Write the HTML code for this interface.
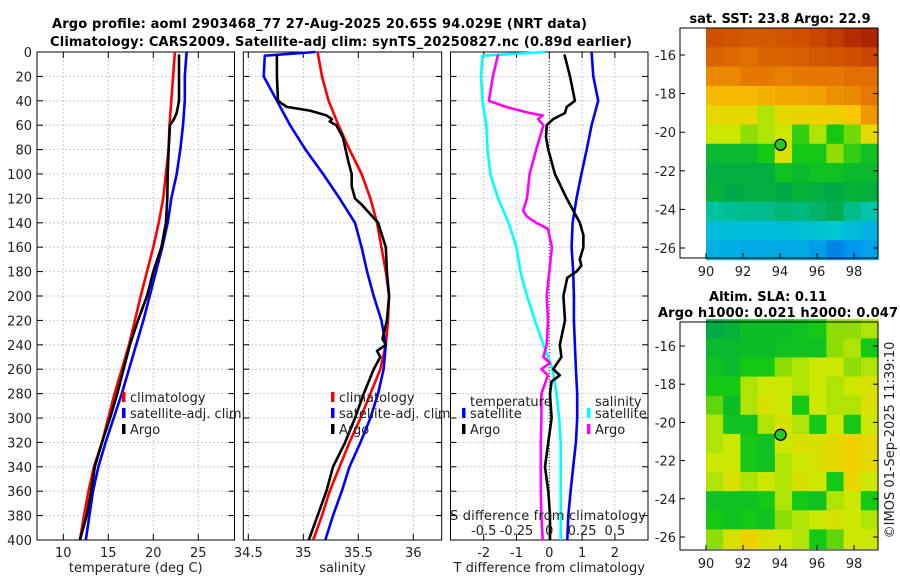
<!DOCTYPE html>
<html><head><meta charset="utf-8"><style>
html,body{margin:0;padding:0;background:#fff;width:900px;height:580px;overflow:hidden}
svg{display:block;font-family:"DejaVu Sans","Liberation Sans",sans-serif}
</style></head><body>
<svg id="s" width="900" height="580" viewBox="0 0 900 580" xmlns="http://www.w3.org/2000/svg">
<text x="52" y="28" font-size="13" font-weight="bold" textLength="535">Argo profile: aoml 2903468_77 27-Aug-2025 20.65S 94.029E (NRT data)</text>
<text x="50" y="46" font-size="13" font-weight="bold" textLength="582">Climatology: CARS2009. Satellite-adj clim: synTS_20250827.nc (0.89d earlier)</text>
<g id="g"></g>
</svg>
<script>
// ---- data ----
const depths = [0,20,40,60,80,100,120,140,160,180,200,220,240,260,280,300,320,340,360,380,400];
const tempClim = [22.4,22.2,22.0,21.8,21.7,21.4,21.1,20.6,20.0,19.3,18.6,17.96,17.3,16.5,15.7,15.0,14.3,13.4,12.8,12.3,11.85];
const tempSat  = [23.7,23.5,23.5,23.3,23.0,22.6,22.0,21.6,21.0,20.3,19.6,18.9,18.1,17.3,16.5,15.6,14.7,13.9,13.3,12.9,12.5];
const argoTDepth = [2,20,40,50,55,60,80,100,120,140,160,180,200,220,240,260,280,300,320,340,360,380,400];
const argoTemp   = [22.85,22.85,22.85,22.6,22.3,21.85,21.7,21.6,21.55,21.4,20.9,20.0,19.3,18.3,17.4,16.7,16.0,15.2,14.3,13.5,13.1,12.6,11.85];
const salClim = [35.13,35.17,35.23,35.32,35.42,35.53,35.61,35.67,35.71,35.75,35.78,35.77,35.75,35.70,35.61,35.52,35.42,35.33,35.24,35.17,35.09];
const salSatDepth = [0,3,20,40,60,80,100,120,140,160,180,200,220,240,260,280,300,320,340,360,380,400];
const salSat = [35.11,34.65,34.64,34.76,34.88,35.02,35.18,35.33,35.47,35.53,35.58,35.64,35.71,35.75,35.73,35.68,35.61,35.52,35.42,35.35,35.27,35.20];
const argoSDepth = [2,20,40,45,48,52,55,57,60,70,90,100,110,120,125,130,140,160,180,200,220,235,240,245,250,260,280,300,320,340,360,380,400];
const argoSal = [34.76,34.76,34.77,34.85,35.06,35.21,35.26,35.24,35.30,35.36,35.41,35.44,35.44,35.47,35.53,35.58,35.68,35.75,35.76,35.78,35.76,35.72,35.75,35.67,35.70,35.64,35.55,35.47,35.38,35.27,35.21,35.13,35.05];
const dTSatDepth = [0,20,40,60,80,100,120,140,160,180,200,220,240,260,280,300,320,340,360,380,400];
const dTSat = [1.29,1.34,1.49,1.29,1.14,0.98,0.83,0.71,0.68,0.73,0.75,0.75,0.78,0.81,0.85,0.85,0.81,0.73,0.65,0.58,0.55];
const dTArgoDepth = [2,20,40,45,50,55,60,70,80,100,120,140,150,160,170,175,180,185,200,220,240,250,260,265,270,280,300,320,340,360,380,400];
const dTArgo = [0.46,0.63,0.78,0.53,0.48,0.12,-0.08,-0.10,-0.03,0.17,0.53,0.93,1.04,1.04,0.93,0.98,0.83,0.55,0.43,0.48,0.32,0.37,0.12,0.32,0.07,0.02,0.07,-0.03,-0.13,-0.03,0.02,0.02];
const dSSatDepth = [0,3,20,40,60,80,100,120,140,160,180,200,220,240,260,280,300,320,340,360,380,400];
const dSSat = [-0.03,-0.51,-0.52,-0.51,-0.48,-0.47,-0.45,-0.39,-0.31,-0.25,-0.22,-0.17,-0.11,-0.045,0.025,0.055,0.075,0.087,0.087,0.087,0.087,0.087];
const dSArgoDepth = [2,20,40,45,50,52,55,60,80,100,120,130,135,140,145,160,180,200,220,240,250,255,260,265,280,300,320,340,360,380,400];
const dSArgo = [-0.39,-0.43,-0.46,-0.33,-0.15,-0.05,-0.085,-0.045,-0.1,-0.15,-0.17,-0.2,-0.17,-0.1,-0.01,0.02,0,-0.02,-0.01,-0.02,-0.045,0.005,-0.06,-0.01,-0.06,-0.06,-0.065,-0.065,-0.065,-0.06,-0.05];
const tTicks = [10,15,20,25];
const sTicks = [34.5,35,35.5,36];
const dTTicks = [-2,-1,0,1,2];
const dSTicks = [-0.5,-0.25,0,0.25,0.5];
const dSTickLabels = ["-0.5","-0.25","0","0.25","0.5"];
const depthTicks = [0,20,40,60,80,100,120,140,160,180,200,220,240,260,280,300,320,340,360,380,400];
const lonTicks = [90,92,94,96,98];
const latTicks = [-16,-18,-20,-22,-24,-26];
const argoLon = 94.03, argoLat = -20.65;
const sstGrid = [
[.88,.87,.86,.86,.87,.88,.90,.92,.95,.97],
[.84,.83,.82,.84,.84,.85,.86,.87,.88,.90],
[.78,.78,.80,.80,.79,.80,.80,.80,.82,.82],
[.72,.72,.72,.73,.74,.74,.75,.77,.78,.80],
[.66,.66,.66,.60,.66,.67,.68,.68,.70,.76],
[.62,.62,.58,.60,.62,.52,.60,.50,.56,.66],
[.46,.46,.46,.50,.64,.50,.50,.58,.52,.48],
[.43,.43,.43,.43,.48,.46,.48,.48,.46,.46],
[.44,.42,.43,.43,.42,.44,.43,.42,.44,.43],
[.34,.35,.36,.36,.38,.37,.39,.41,.36,.33],
[.25,.26,.25,.25,.25,.26,.27,.28,.25,.22],
[.22,.22,.20,.20,.20,.20,.17,.12,.15,.18]];
const slaGrid = [
[.42,.44,.47,.47,.47,.48,.50,.58,.58,.60],
[.46,.46,.47,.47,.48,.48,.48,.58,.60,.50],
[.48,.46,.50,.50,.58,.60,.62,.62,.58,.60],
[.50,.50,.60,.62,.62,.60,.62,.60,.62,.64],
[.55,.47,.60,.64,.62,.50,.62,.60,.60,.64],
[.60,.48,.48,.60,.64,.60,.50,.62,.50,.62],
[.60,.62,.50,.48,.62,.64,.64,.66,.68,.66],
[.62,.62,.50,.48,.60,.62,.64,.66,.68,.66],
[.60,.64,.60,.62,.60,.64,.62,.50,.66,.62],
[.48,.48,.48,.50,.60,.50,.48,.60,.62,.50],
[.50,.48,.50,.48,.58,.60,.62,.64,.62,.60],
[.58,.64,.68,.64,.62,.60,.50,.55,.62,.62]];

// ---- helpers ----
const NS="http://www.w3.org/2000/svg", G=document.getElementById('g');
function mk(tag,attrs,parent){const e=document.createElementNS(NS,tag);for(const k in attrs)e.setAttribute(k,attrs[k]);(parent||G).appendChild(e);return e;}
const top0=52, bot0=540;
const yD = d => top0 + d*(bot0-top0)/400;
function lin(d0,d1,p0,p1){return v=>p0+(v-d0)*(p1-p0)/(d1-d0);}

function panel(name,x0,x1,xs,ticks,labels,xlabel,leftLabels){
  const g=mk('g',{});
  
  
  ticks.forEach((t,i)=>{
    const x=xs(t);
    const gl=mk('line',{x1:x,x2:x,y1:top0,y2:bot0,stroke:'#b8bfd8','stroke-width':0.8,'stroke-dasharray':'2,2'},g);
    
    
    mk('line',{x1:x,x2:x,y1:bot0,y2:bot0-6,stroke:'#000'},g);
    mk('line',{x1:x,x2:x,y1:top0,y2:top0+6,stroke:'#000'},g);
    const tl=mk('text',{x:x,y:557,'font-size':13,'text-anchor':'middle',fill:'#222'},g);
    tl.textContent=labels[i];
    
    
  });
  depthTicks.forEach(d=>{
    const y=yD(d);
    if(d>0&&d<400){const gl=mk('line',{x1:x0,x2:x1,y1:y,y2:y,stroke:'#b8bfd8','stroke-width':0.8,'stroke-dasharray':'2,2'},g);
    
    }
    mk('line',{x1:x0,x2:x0+6,y1:y,y2:y,stroke:'#000'},g);
    mk('line',{x1:x1,x2:x1-6,y1:y,y2:y,stroke:'#000'},g);
    if(leftLabels){const t=mk('text',{x:x0-5,y:y+5,'font-size':13,'text-anchor':'end',fill:'#222'},g);
      t.textContent=d;
      
      }
  });
  const fr=mk('rect',{x:x0,y:top0,width:x1-x0,height:bot0-top0,fill:'none',stroke:'#000','stroke-width':1},g);
  
  
  const xl=mk('text',{x:(x0+x1)/2,y:572,'font-size':13,'text-anchor':'middle',fill:'#222'},g);
  xl.textContent=xlabel;
  
  
  return g;
}
function line(xs,vals,ds,color,name){
  const pts=vals.map((v,i)=>xs(v).toFixed(1)+','+yD(ds[i]).toFixed(1)).join(' ');
  const p=mk('polyline',{points:pts,fill:'none',stroke:color,'stroke-width':2.6,'stroke-linejoin':'round'});
  
  
}
function legend(x,y,color,text,name){
  const m=mk('rect',{x:x,y:y-9,width:3.5,height:10,fill:color});
  
  
  const t=mk('text',{x:x+8,y:y+1,'font-size':13,fill:'#222'});
  t.textContent=text;
  
  
}

// panel 1 temperature
const xT=lin(10,25,63.3,198.3);
panel('temperature-panel',37,234.5,xT,tTicks,tTicks.map(String),'temperature (deg C)',true);
line(xT,tempClim,depths,'#f00','temperature-climatology-line');
line(xT,tempSat,depths,'#00f','temperature-satellite-line');
line(xT,argoTemp,argoTDepth,'#000','temperature-argo-line');
legend(122,401,'#f00','climatology','legend-climatology');
legend(122,417,'#00f','satellite-adj. clim','legend-satellite-adj-clim');
legend(122,433,'#000','Argo','legend-argo');

// panel 2 salinity
const xS=lin(35,35.5,303.3,358.3);
panel('salinity-panel',243.3,441.7,xS,sTicks,sTicks.map(String),'salinity',false);
line(xS,salClim,depths,'#f00','salinity-climatology-line');
line(xS,salSat,salSatDepth,'#00f','salinity-satellite-line');
line(xS,argoSal,argoSDepth,'#000','salinity-argo-line');
legend(331,401,'#f00','climatology','legend-sal-climatology');
legend(331,417,'#00f','satellite-adj. clim','legend-sal-satellite-adj-clim');
legend(331,433,'#000','Argo','legend-sal-argo');

// panel 3 differences
const xDT=lin(0,1,549.3,582.1);
const xDS=v=>xDT(v*4);
panel('difference-panel',450.5,648,xDT,dTTicks,dTTicks.map(String),'T difference from climatology',false);
const zl=mk('line',{x1:xDT(0),x2:xDT(0),y1:top0,y2:bot0,stroke:'#333','stroke-width':1,'stroke-dasharray':'1,2'});


line(xDS,dSSat,dSSatDepth,'#0ff','salinity-diff-satellite-line');
line(xDS,dSArgo,dSArgoDepth,'#f0f','salinity-diff-argo-line');
line(xDT,dTSat,dTSatDepth,'#00f','temperature-diff-satellite-line');
line(xDT,dTArgo,dTArgoDepth,'#000','temperature-diff-argo-line');
{const t=mk('text',{x:470,y:406,'font-size':13,fill:'#222'});t.textContent='temperature';}
{const t=mk('text',{x:595,y:406,'font-size':13,fill:'#222'});t.textContent='salinity';}
legend(462,417,'#00f','satellite','legend-temp-satellite');
legend(462,433,'#000','Argo','legend-temp-argo');
legend(587,417,'#0ff','satellite','legend-sal-satellite');
legend(587,433,'#f0f','Argo','legend-sal-argo-diff');
{const t=mk('text',{x:548,y:520,'font-size':13,'text-anchor':'middle',fill:'#222',textLength:196});t.textContent='S difference from climatology';}
dSTicks.forEach((v,i)=>{const t=mk('text',{x:xDS(v),y:535,'font-size':13,'text-anchor':'middle',fill:'#222'});t.textContent=dSTickLabels[i];

});

// ---- maps ----
const stops=[[0,[0,60,200]],[.15,[0,150,240]],[.3,[0,205,205]],[.42,[0,170,70]],[.5,[20,200,20]],[.62,[205,232,0]],[.7,[250,200,0]],[.8,[230,120,0]],[.9,[200,70,0]],[1,[160,20,0]]];
function cmap(v){for(let i=1;i<stops.length;i++){if(v<=stops[i][0]){const a=stops[i-1],b=stops[i],f=(v-a[0])/(b[0]-a[0]);return 'rgb('+a[1].map((c,k)=>Math.round(c+(b[1][k]-c)*f)).join(',')+')';}}return 'rgb(160,20,0)';}
function map(name,grid,fy0,fy1,latY,title1,title2){
  const g=mk('g',{});
  
  
  const fx0=680,fx1=878;
  const xL=lin(90,98,706,854);
  const lonMin=90, lonMax=(fx1-706)/18.5+90;
  const latTop=-14.6, latBot=-26.6;
  const nr=grid.length,nc=grid[0].length;
  const dLon=(lonMax-lonMin)/nc, dLat=(latTop-latBot)/nr;
  grid.forEach((row,r)=>row.forEach((v,c)=>{
    const x=xL(lonMin+c*dLon), x2=xL(lonMin+(c+1)*dLon);
    const y=latY(latTop-r*dLat), y2=latY(latTop-(r+1)*dLat);
    const cell=mk('rect',{x:x,y:y,width:x2-x+0.6,height:y2-y+0.6,fill:cmap(v)},g);
    
    
  }));
  const fr=mk('rect',{x:fx0,y:fy0,width:fx1-fx0,height:fy1-fy0,fill:'none',stroke:'#000'},g);
  
  
  lonTicks.forEach(l=>{const x=xL(l);mk('line',{x1:x,x2:x,y1:fy1,y2:fy1-5,stroke:'#000'},g);
    const t=mk('text',{x:x,y:fy1+18,'font-size':13,'text-anchor':'middle',fill:'#222'},g);t.textContent=l;
    
    });
  latTicks.forEach(l=>{const y=latY(l);mk('line',{x1:fx0,x2:fx0+5,y1:y,y2:y,stroke:'#000'},g);mk('line',{x1:fx1,x2:fx1-5,y1:y,y2:y,stroke:'#000'},g);
    const t=mk('text',{x:fx0-4,y:y+5,'font-size':13,'text-anchor':'end',fill:'#222'},g);t.textContent=l;
    
    });
  const c=mk('circle',{cx:xL(argoLon),cy:latY(argoLat),r:5.5,fill:'#2c2',stroke:'#000','stroke-width':1.3},g);
  
  
  if(title2){const t=mk('text',{x:768,y:fy0-21,'font-size':13,'font-weight':'bold','text-anchor':'middle',fill:'#000'},g);t.textContent=title1;
    
    const t2=mk('text',{x:778,y:fy0-5,'font-size':13,'font-weight':'bold','text-anchor':'middle',fill:'#000',textLength:240},g);t2.textContent=title2;
    }
  else{const t=mk('text',{x:780,y:fy0-5,'font-size':13,'font-weight':'bold','text-anchor':'middle',fill:'#000'},g);t.textContent=title1;
    }
}
map('sst-map',sstGrid,28,258,lin(-16,-26,55,248),'sat. SST: 23.8 Argo: 22.9',null);
map('sla-map',slaGrid,322,550,lin(-16,-26,346,537),'Altim. SLA: 0.11','Argo h1000: 0.021 h2000: 0.047');
{const t=mk('text',{x:0,y:0,'font-size':13,'text-anchor':'middle',fill:'#222',transform:'translate(894,440) rotate(-90)'});t.textContent='©IMOS 01-Sep-2025 11:39:10';
}
</script>
</body></html>
